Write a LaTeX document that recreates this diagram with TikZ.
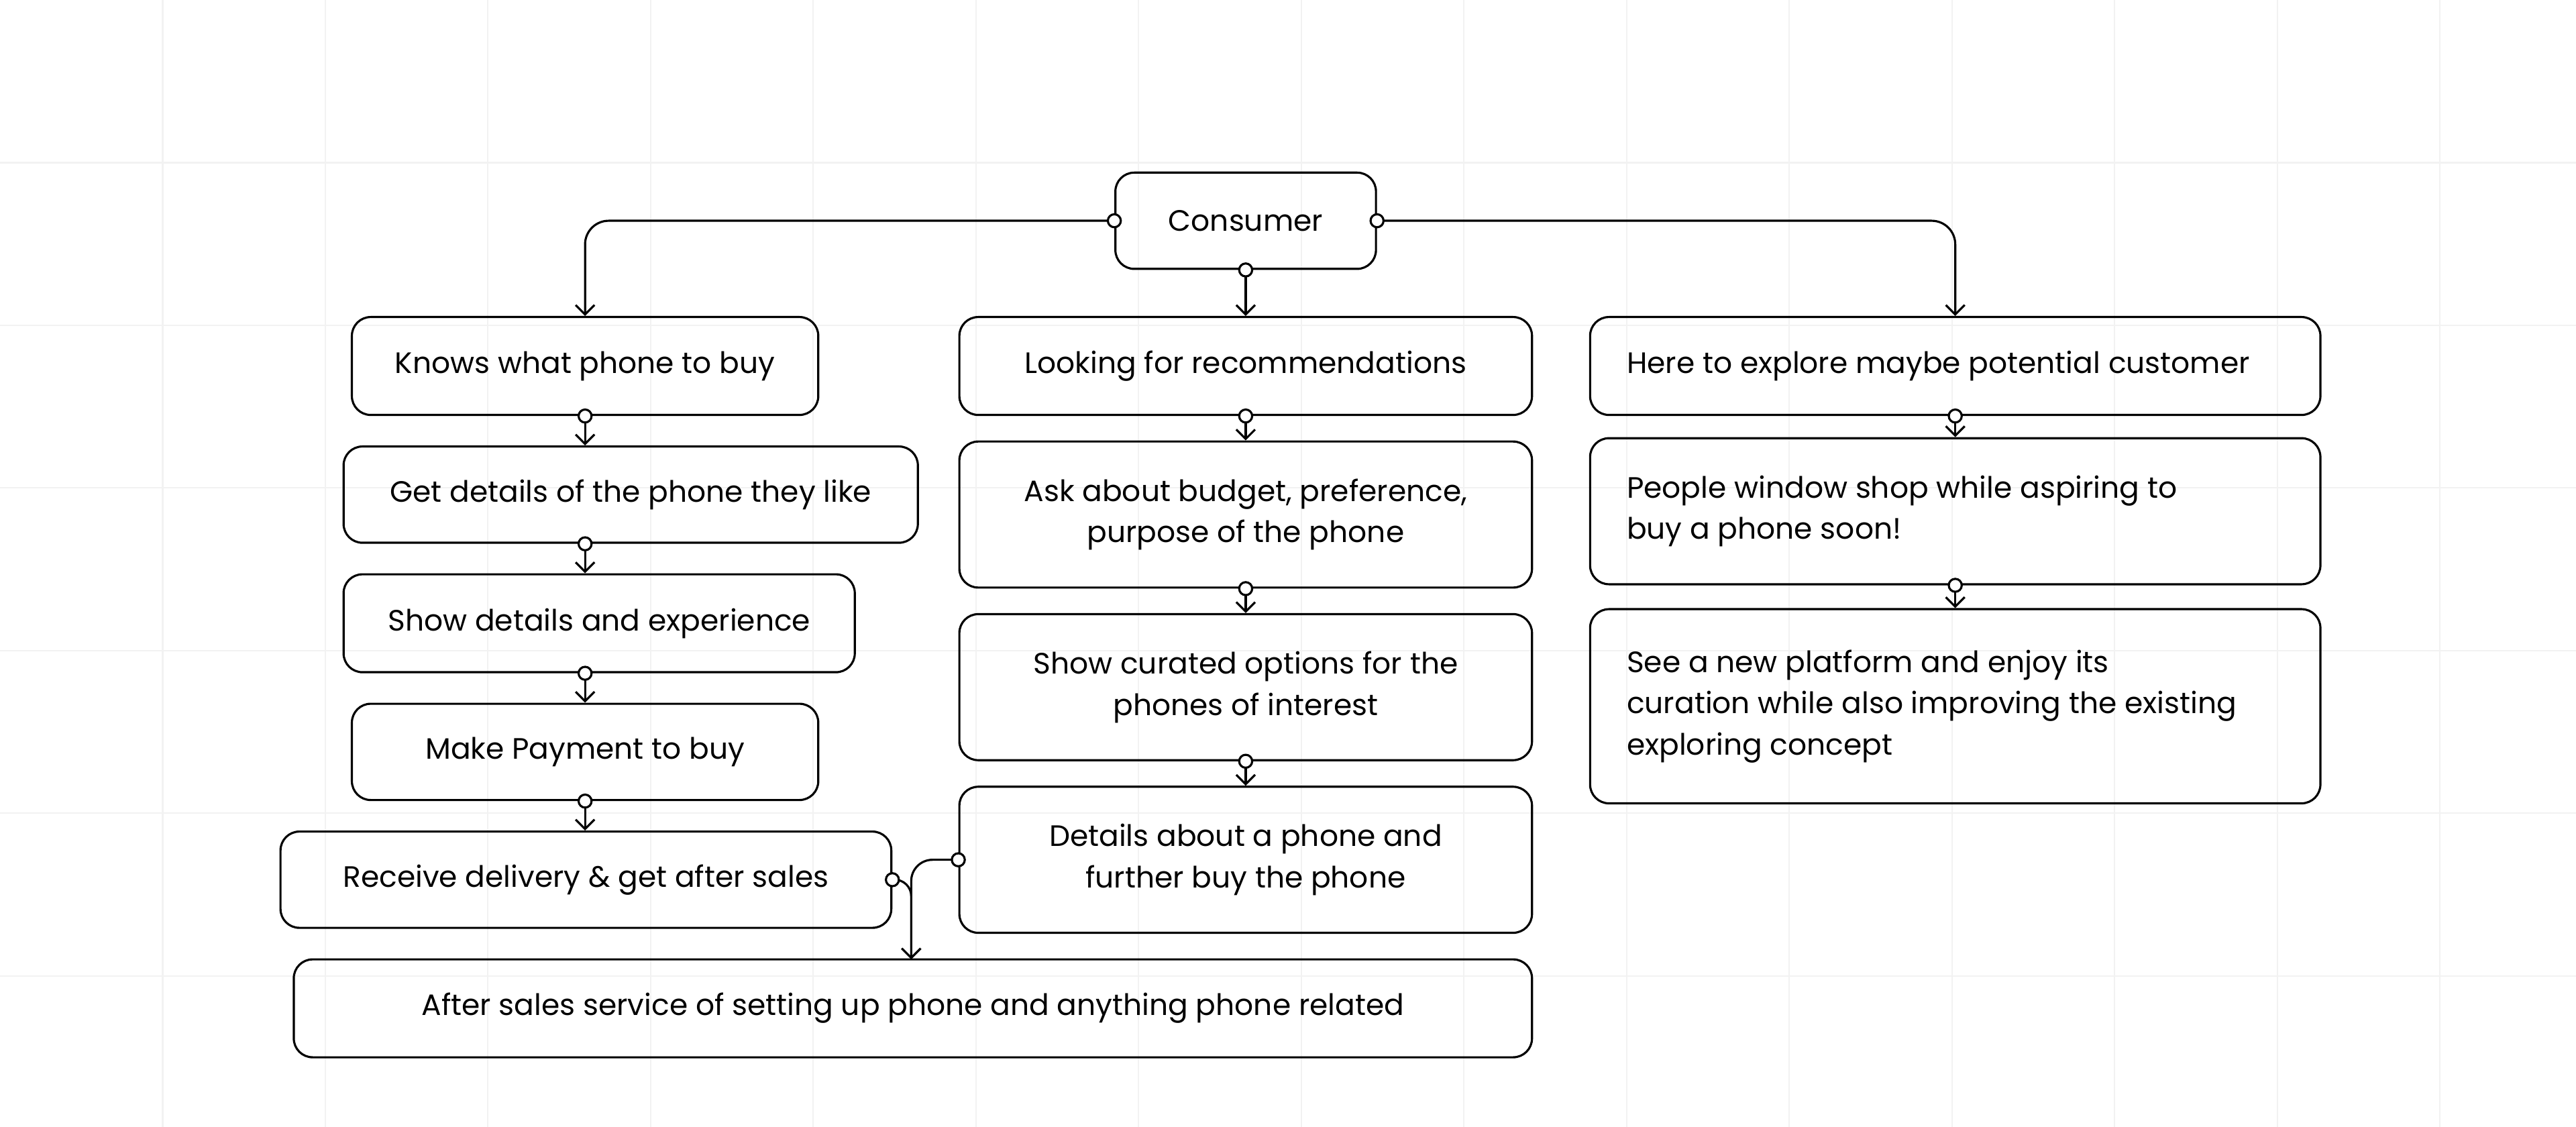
\documentclass[tikz,border=0pt]{standalone}
\usepackage{fontspec}
\setmainfont{Poppins}
\usetikzlibrary{fit,arrows.meta}
\tikzset{
  box/.style={draw, line width=0.9pt, rounded corners=8pt, inner sep=0pt},
  conn/.style={line width=0.9pt, -{Straight Barb[length=4pt,width=8pt]}},
  dot/.style={circle, draw, line width=0.9pt, fill=white, minimum size=5.5pt, inner sep=0pt},
  txt/.style={font=\fontsize{12.5}{17.5}\selectfont, align=center},
  ltxt/.style={font=\fontsize{12.5}{17.5}\selectfont, align=left, anchor=west},
  gridline/.style={draw=black!5, line width=0.6pt}
}
\begin{document}
\begin{tikzpicture}[x=0.02474cm,y=-0.02474cm]
\useasboundingbox (0,0) rectangle (1552,679);
\foreach \g in {98,196,...,1550} \draw[gridline] (\g,0) -- (\g,679);
\foreach \g in {98,196,...,679} \draw[gridline] (0,\g) -- (1552,\g);
\newcommand\bx[6]{\node[box, fit={(#2,#3)(#4,#5)}] (#1) {}; \node[txt] at (#1.center) {#6};}
\newcommand\lbx[6]{\node[box, fit={(#2,#3)(#4,#5)}] (#1) {}; \node[ltxt] at ([xshift=12.5pt]#1.west) {#6};}
\bx{c}{672}{104}{829}{162}{Consumer}
\bx{k}{212}{191}{493}{250}{Knows what phone to buy}
\bx{g}{207}{269}{553}{327}{Get details of the phone they like}
\bx{s}{207}{346}{515}{405}{Show details and experience}
\bx{m}{212}{424}{493}{482}{Make Payment to buy}
\bx{r}{169}{501}{537}{559}{Receive delivery \& get after sales}
\bx{a}{177}{578}{923}{637}{After sales service of setting up phone and anything phone related}
\bx{l}{578}{191}{923}{250}{Looking for recommendations}
\bx{q}{578}{266}{923}{354}{Ask about budget, preference,\\purpose of the phone}
\bx{o}{578}{370}{923}{458}{Show curated options for the\\phones of interest}
\bx{d}{578}{474}{923}{562}{Details about a phone and\\further buy the phone}
\lbx{h}{958}{191}{1398}{250}{Here to explore maybe potential customer}
\lbx{p}{958}{264}{1398}{352}{People window shop while aspiring to\\buy a phone soon!}
\lbx{e}{958}{367}{1398}{484}{See a new platform and enjoy its\\curation while also improving the existing\\exploring concept}
% connectors
\draw[conn, rounded corners=10pt] (c.west) -| (k.north);
\draw[conn, rounded corners=10pt] (c.east) -| (h.north);
\draw[conn] (c.south) -- (l.north);
\draw[conn] (k.south) -- (k.south |- g.north);
\draw[conn] (k.south |- g.south) -- (k.south |- s.north);
\draw[conn] (k.south |- s.south) -- (k.south |- m.north);
\draw[conn] (m.south) -- (m.south |- r.north);
\draw[conn] (l.south) -- (q.north);
\draw[conn] (q.south) -- (o.north);
\draw[conn] (o.south) -- (d.north);
\draw[conn] (h.south) -- (p.north);
\draw[conn] (p.south) -- (e.north);
\coordinate (j) at (549,578);
\draw[conn, rounded corners=7pt] (r.east) -| (j);
\draw[conn, rounded corners=9pt] (d.west) -| (j);
% start dots
\foreach \pt in {c.west,c.east,c.south,k.south,g.south -| k.south,s.south -| k.south,m.south,l.south,q.south,o.south,h.south,p.south,r.east,d.west}
  \node[dot] at (\pt) {};
\end{tikzpicture}
\end{document}
